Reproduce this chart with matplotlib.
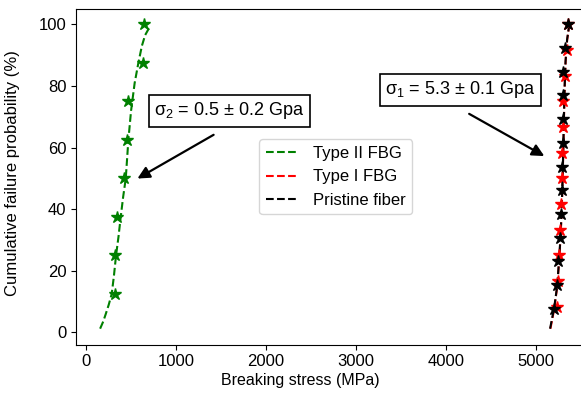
import matplotlib
matplotlib.use("Agg")
import matplotlib.pyplot as plt

plt.rcParams['font.family'] = ['Liberation Sans', 'DejaVu Sans']
plt.rcParams['mathtext.default'] = 'regular'
plt.rcParams['font.size'] = 12

# Type II FBG (green): measured points and fitted curve
type2_stress = [318, 325, 345, 425, 455, 462, 635, 645]
type2_prob = [12.5, 25, 37.5, 50, 62.5, 75, 87.5, 100]
type2_fit_x = [156, 190, 219, 252, 285, 310, 333, 360, 385, 412, 441, 470, 500, 540, 581, 620, 656, 690, 711]
type2_fit_y = [1.2, 3.5, 6, 9, 12.5, 18.5, 25, 31, 37.5, 44, 50, 62.5, 72, 81, 87.5, 93, 96.5, 98.3, 99]

# Type I FBG (red)
type1_stress = [5237, 5240, 5250, 5267, 5282, 5289, 5293, 5297, 5303, 5322, 5341, 5360]
type1_prob = [8.33, 16.67, 25, 33.33, 41.67, 50, 58.33, 66.67, 75, 83.33, 91.67, 100]
type1_fit_x = [5160, 5203, 5236, 5256, 5273, 5286, 5296, 5304, 5311, 5319, 5329, 5346, 5366]
type1_fit_y = [1.2, 7.7, 15, 23, 31, 40, 50, 60, 70, 80, 88, 95, 99]

# Pristine fiber (black)
pristine_stress = [5200, 5230, 5248, 5267, 5280, 5287, 5293, 5296, 5298, 5300, 5305, 5322, 5359]
pristine_prob = [7.69, 15.38, 23.08, 30.77, 38.46, 46.15, 53.85, 61.54, 69.23, 76.92, 84.62, 92.31, 100]
pristine_fit_x = [5156, 5200, 5235, 5255, 5272, 5285, 5295, 5303, 5310, 5318, 5328, 5345, 5365]
pristine_fit_y = [1.2, 7.7, 15, 23, 31, 40, 50, 60, 70, 80, 88, 95, 99]

fig = plt.figure(figsize=(5.81, 3.94), dpi=100)
ax = fig.add_axes([76 / 581, 1 - 344.7 / 394, 519.6 / 581, 335.7 / 394])

ax.plot(type2_fit_x, type2_fit_y, '--', color='green', lw=1.5, label='Type II FBG')
ax.plot(type1_fit_x, type1_fit_y, '--', color='red', lw=1.5, label='Type I FBG')
ax.plot(pristine_fit_x, pristine_fit_y, '--', color='black', lw=1.5, label='Pristine fiber')

ax.plot(type2_stress, type2_prob, '*', color='green', ms=9, ls='none')
ax.plot(type1_stress, type1_prob, '*', color='red', ms=9, ls='none')
ax.plot(pristine_stress, pristine_prob, '*', color='black', ms=9, ls='none')

ax.set_xlim(-112, 5662)
ax.set_ylim(-4, 105)
ax.set_xticks([0, 1000, 2000, 3000, 4000, 5000])
ax.set_yticks([0, 20, 40, 60, 80, 100])
ax.tick_params(labelsize=12)
ax.set_xlabel('Breaking stress (MPa)', fontsize=11.5)
ax.set_ylabel('Cumulative failure probability (%)', fontsize=12)
# the original figure is cropped on the right, so the x label sits left of the axes centre
ax.xaxis.set_label_coords(0.431, -0.085)
ax.yaxis.set_label_coords(-0.108, 0.51)

box = dict(boxstyle='square,pad=0.3', fc='white', ec='black', lw=1.2)
ax.text(1591, 71.9, 'σ$_2$ = 0.5 ± 0.2 Gpa', ha='center', va='center', fontsize=13, bbox=box)
ax.text(4156, 78.7, 'σ$_1$ = 5.3 ± 0.1 Gpa', ha='center', va='center', fontsize=13, bbox=box)

arrow = dict(arrowstyle='-|>', color='black', lw=1.6, mutation_scale=18)
ax.annotate('', xy=(544, 49.5), xytext=(1444, 64.6), arrowprops=arrow)
ax.annotate('', xy=(5119, 56.8), xytext=(4230, 71.4), arrowprops=arrow)

ax.legend(loc='center', fontsize=12)

fig.savefig('out.png', dpi=100)
